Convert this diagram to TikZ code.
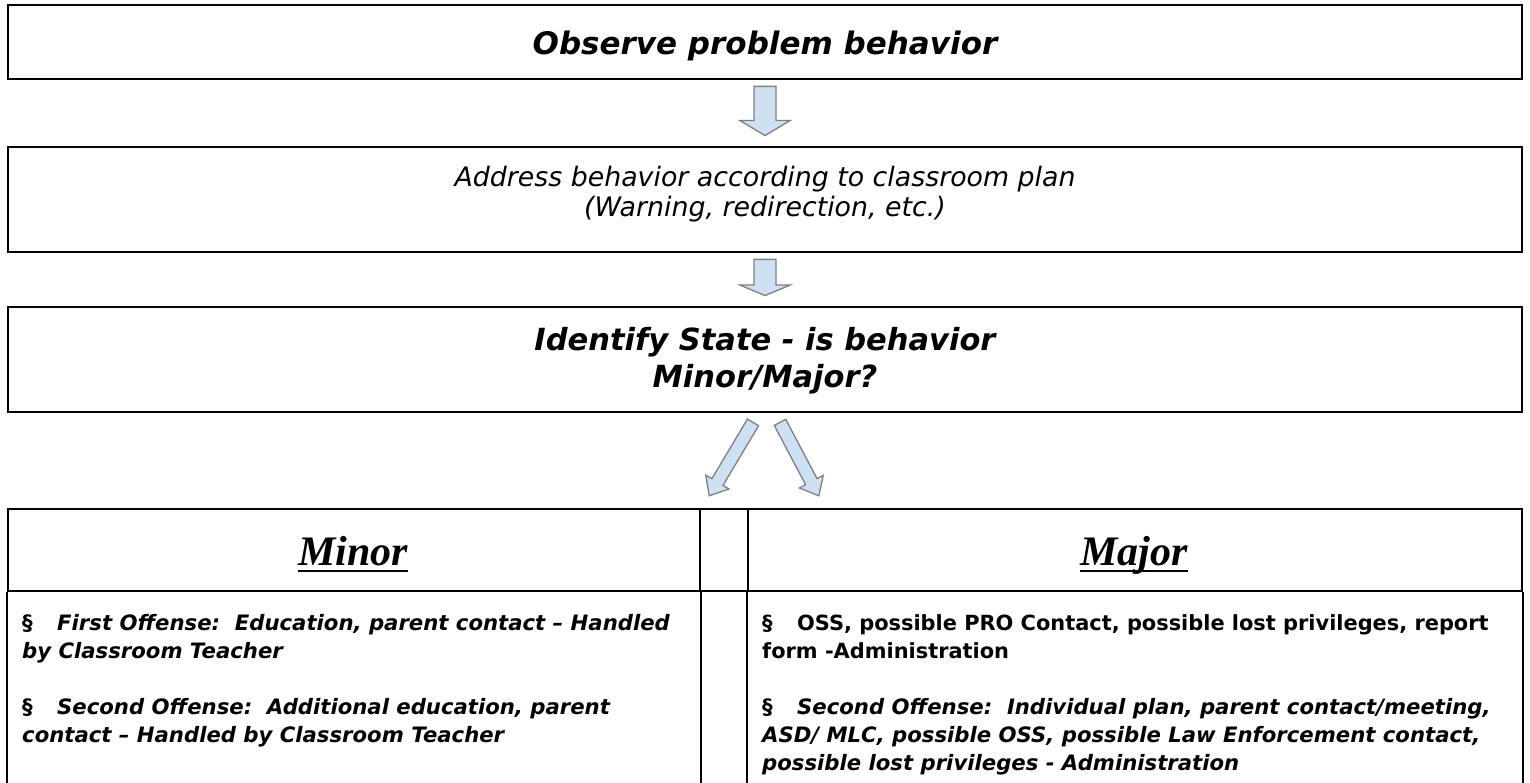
\documentclass[tikz,border=0pt]{standalone}
\usepackage{fontspec}
\usetikzlibrary{calc}
\newfontfamily\cf{DejaVu Sans}[Ligatures=TeX,ItalicFont={DejaVu Sans Oblique},BoldFont={DejaVu Sans Bold},BoldItalicFont={DejaVu Sans Bold Oblique}]
\newfontfamily\hf{Liberation Serif}
\definecolor{arrowfill}{RGB}{206,225,243}
\definecolor{arrowline}{RGB}{128,128,128}
\newcommand\blockarrow[5]{%
  \coordinate (bah) at ($(#2)!#5!(#1)$);
  \draw[barrow] ($(#1)!#3!90:(#2)$) -- ($(bah)!#3!90:(#2)$) -- ($(bah)!#4!90:(#2)$) -- (#2)
     -- ($(bah)!#4!-90:(#2)$) -- ($(bah)!#3!-90:(#2)$) -- ($(#1)!#3!-90:(#2)$) -- cycle;}
\begin{document}
\begin{tikzpicture}[x=1pt,y=-1pt,
  box/.style={draw, line width=2.8pt, minimum width=1514pt, inner sep=0pt},
  cell/.style={draw, line width=2.4pt, inner sep=0pt, minimum height=82pt},
  tline/.style={line width=2.4pt},
  barrow/.style={fill=arrowfill, draw=arrowline, line width=1.3pt, line join=miter},
  txt/.style={inner sep=0pt, anchor=base},
  ltxt/.style={inner sep=0pt, anchor=base west},
  bigb/.style={font=\cf\bfseries\itshape\fontsize{31}{36}\selectfont},
  midb/.style={font=\cf\bfseries\itshape\fontsize{30.5}{36}\selectfont},
  reg/.style={font=\cf\itshape\fontsize{26.8}{30}\selectfont},
  body/.style={font=\cf\bfseries\itshape\fontsize{21.2}{28}\selectfont},
  bodyup/.style={font=\cf\bfseries\fontsize{20.9}{28}\selectfont},
  hdr/.style={inner sep=0pt, anchor=base, font=\hf\bfseries\itshape\fontsize{42}{48}\selectfont}]
\useasboundingbox (0,0) rectangle (1530,783);
\fill[white] (0,0) rectangle (1530,783);

% boxes
\node[box, minimum height=74pt] (b1) at (765,42) {};
\node[box, minimum height=105pt] (b2) at (765,199.5) {};
\node[box, minimum height=105pt] (b3) at (765,359.5) {};

\node[txt, bigb] (b1t) at (765,55) {Observe problem behavior};
\node[txt, reg] (b2t1) at (765,187) {Address behavior according to classroom plan};
\node[txt, reg] (b2t2) at (765,217) {(Warning, redirection, etc.)};
\node[txt, midb] (b3t1) at (765,350) {Identify State - is behavior};
\node[txt, midb] (b3t2) at (765,387) {Minor/Major?};

% table
\node[cell, minimum width=692pt] (hmin) at (354,550) {};
\node[cell, minimum width=48pt] (hmid) at (724,550) {};
\node[cell, minimum width=774pt] (hmaj) at (1135,550) {};
\draw[tline] (hmin.south west) -- ++(0,200);
\draw[tline] (hmin.south east) -- ++(0,200);
\draw[tline] (hmaj.south west) -- ++(0,200);
\draw[tline] (hmaj.south east) -- ++(0,200);

\node[hdr] (minort) at (353,565) {Minor};
\node[hdr] (majort) at (1134,565) {Major};
\draw[line width=2.6pt] ([yshift=-6pt]minort.base west) -- ([yshift=-6pt]minort.base east);
\draw[line width=2.6pt] ([yshift=-6pt]majort.base west) -- ([yshift=-6pt]majort.base east);

% arrows
\coordinate (a1s) at ([yshift=-6pt]b1.south);
\coordinate (a1e) at ([yshift=10pt]b2.north);
\coordinate (a2s) at ([yshift=-6pt]b2.south);
\coordinate (a2e) at ([yshift=10pt]b3.north);
\coordinate (a3s) at ([shift={(-12,9)}]b3.south);
\coordinate (a3e) at ([shift={(8,-12)}]hmin.north east);
\coordinate (a4s) at ([shift={(15,9)}]b3.south);
\coordinate (a4e) at ([shift={(72,-12)}]hmaj.north west);
\blockarrow{a1s}{a1e}{11pt}{25pt}{15pt}
\blockarrow{a2s}{a2e}{11pt}{25pt}{10.5pt}
\blockarrow{a3s}{a3e}{6.5pt}{13.5pt}{16pt}
\blockarrow{a4s}{a4e}{6.5pt}{13.5pt}{16pt}

% body text
\node[ltxt, body] (l1) at (22,630) {\makebox[35pt][l]{\upshape\S}First Offense:\ \ Education, parent contact – Handled};
\node[ltxt, body] (l2) at (22,658) {by Classroom Teacher};
\node[ltxt, body] (l3) at (22,714) {\makebox[35pt][l]{\upshape\S}Second Offense:\ \ Additional education, parent};
\node[ltxt, body] (l4) at (22,742) {contact – Handled by Classroom Teacher};

\node[ltxt, bodyup] (r1) at (762,630) {\makebox[35pt][l]{\S}OSS, possible PRO Contact, possible lost privileges, report};
\node[ltxt, bodyup] (r2) at (762,658) {form -Administration};
\node[ltxt, body] (r3) at (762,714) {\makebox[35pt][l]{\upshape\S}Second Offense:\ \ Individual plan, parent contact/meeting,};
\node[ltxt, body] (r4) at (762,742) {ASD/ MLC, possible OSS, possible Law Enforcement contact,};
\node[ltxt, body] (r5) at (762,770) {possible lost privileges - Administration};
\end{tikzpicture}
\end{document}
